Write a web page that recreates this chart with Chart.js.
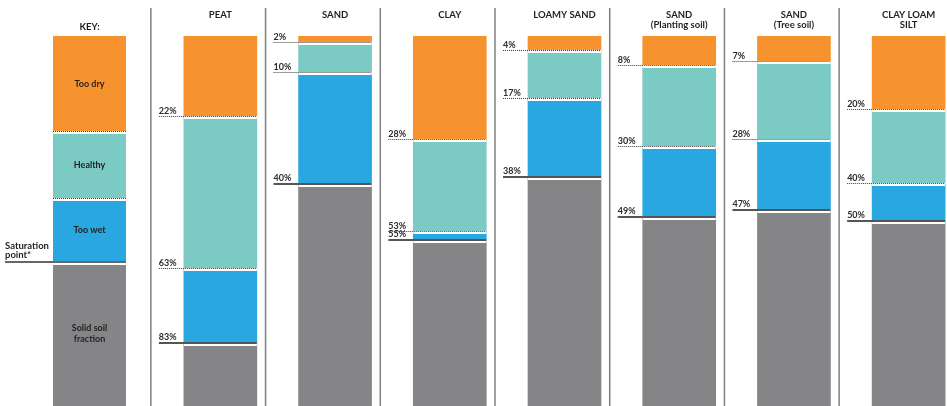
<!DOCTYPE html>
<html><head><meta charset="utf-8">
<script src="https://cdn.jsdelivr.net/npm/chart.js@4/dist/chart.umd.min.js"></script>
<style>
html,body{margin:0;padding:0;background:#fff;width:947px;height:406px;overflow:hidden;position:relative;}
canvas{position:absolute;left:0;top:0;}
</style></head><body>
<canvas id="main" width="1000" height="406"></canvas>
<canvas id="key" width="152" height="406"></canvas>
<script>
// ---- data ----
const categories = [['PEAT'], ['SAND'], ['CLAY'], ['LOAMY SAND'], ['SAND', '(Planting soil)'], ['SAND', '(Tree soil)'], ['CLAY LOAM', 'SILT']];
const tooDryLimit = [22, 2, 28, 4, 8, 7, 20];
const healthyLimit = [63, 10, 53, 17, 30, 28, 40];
const saturationPoint = [83, 40, 55, 38, 49, 47, 50];
const keyTitle = [['KEY:']];
const keyLimits = [26, 44, 61];
const keyLabels = [['Too dry'], ['Healthy'], ['Too wet'], ['Solid soil', 'fraction']];
const saturationText = ['Saturation', 'point*'];
const seriesNames = ['Too dry', 'Healthy', 'Too wet', 'Solid soil fraction'];
const colors = ['#F7932F', '#7BCAC4', '#29A7E0', '#858587'];

const FONT = 'Lato, "Open Sans", sans-serif';

function segments(a, b, c) { return [a, b - a, c - b, 100 - c]; }

function makeDatasets(limA, limB, limC, thickness) {
  return seriesNames.map((name, s) => ({
    label: name,
    data: limA.map((_, i) => segments(limA[i], limB[i], limC[i])[s]),
    backgroundColor: colors[s],
    borderWidth: 0,
    barThickness: thickness,
    categoryPercentage: 1,
    barPercentage: 1
  }));
}

function baseOptions(padLeft, padRight, titlePad) {
  return {
    responsive: false, animation: false, events: [],
    layout: { padding: { left: padLeft, right: padRight, top: 0, bottom: 0 } },
    plugins: { legend: { display: false }, tooltip: { enabled: false } },
    scales: {
      x: {
        stacked: true, position: 'top',
        grid: { display: false, drawTicks: false }, border: { display: false },
        ticks: { font: { family: FONT, weight: 'bold', size: 9.5, lineHeight: 1.05 }, color: '#231F20',
                 padding: titlePad, crossAlign: 'far', maxRotation: 0, minRotation: 0, autoSkip: false },
        afterFit(scale) { scale.height = 36; }
      },
      y: { stacked: true, display: false, min: 0, max: 100, reverse: true }
    }
  };
}

function pctLabel(ctx, text, x, y) {
  ctx.save();
  ctx.setLineDash([]);
  ctx.fillStyle = '#2b2b2b';
  ctx.font = 'bold 9px ' + FONT;
  ctx.textAlign = 'left';
  ctx.textBaseline = 'alphabetic';
  ctx.fillText(text, x, y);
  ctx.restore();
}

function dotted(ctx, x1, x2, Y) {
  ctx.save();
  ctx.strokeStyle = '#3a3a3a'; ctx.lineWidth = 1; ctx.setLineDash([1, 1]);
  ctx.beginPath(); ctx.moveTo(x1, Y + 0.5); ctx.lineTo(x2, Y + 0.5); ctx.stroke();
  ctx.restore();
}

const mainPlugin = {
  id: 'soilBoundaries',
  afterDatasetsDraw(chart) {
    const ctx = chart.ctx, ys = chart.scales.y, area = chart.chartArea;
    chart.getDatasetMeta(0).data.forEach((bar, i) => {
      const left = bar.x - bar.width / 2, right = bar.x + bar.width / 2;
      const labelX = left - 25;
      // column separator
      ctx.save();
      ctx.strokeStyle = '#808080'; ctx.lineWidth = 1.5;
      ctx.beginPath(); ctx.moveTo(left - 33, 8); ctx.lineTo(left - 33, area.bottom); ctx.stroke();
      ctx.restore();
      [tooDryLimit[i], healthyLimit[i]].forEach(v => {
        const Y = Math.round(ys.getPixelForValue(v));
        ctx.fillStyle = '#fff'; ctx.fillRect(left, Y - 1, bar.width, 3);
        dotted(ctx, labelX, right, Y - 1);
        pctLabel(ctx, v + '%', labelX, Y - 3);
      });
      const S = Math.round(ys.getPixelForValue(saturationPoint[i]));
      ctx.fillStyle = '#fff'; ctx.fillRect(left, S - 1, bar.width, 4);
      ctx.fillStyle = '#555'; ctx.fillRect(labelX, S - 1, right - labelX, 2);
      pctLabel(ctx, saturationPoint[i] + '%', labelX, S - 3);
    });
  }
};

const keyPlugin = {
  id: 'keyBoundaries',
  afterDatasetsDraw(chart) {
    const ctx = chart.ctx, ys = chart.scales.y;
    const bar = chart.getDatasetMeta(0).data[0];
    const left = bar.x - bar.width / 2, right = bar.x + bar.width / 2;
    [keyLimits[0], keyLimits[1]].forEach(v => {
      const Y = Math.round(ys.getPixelForValue(v));
      ctx.fillStyle = '#fff'; ctx.fillRect(left, Y - 1, bar.width, 3);
      dotted(ctx, left, right, Y - 1);
    });
    const S = Math.round(ys.getPixelForValue(keyLimits[2]));
    ctx.fillStyle = '#fff'; ctx.fillRect(left, S - 1, bar.width, 4);
    ctx.fillStyle = '#666'; ctx.fillRect(5, S - 1, right - 5, 2);
    // segment texts
    ctx.save();
    ctx.font = 'bold 9px ' + FONT; ctx.fillStyle = '#231F20';
    ctx.textAlign = 'center'; ctx.textBaseline = 'middle';
    keyLabels.forEach((lines, s) => {
      const el = chart.getDatasetMeta(s).data[0];
      const cy = (el.y + el.base) / 2;
      lines.forEach((t, j) => ctx.fillText(t, el.x, cy + (j - (lines.length - 1) / 2) * 11));
    });
    ctx.font = 'bold 9.5px ' + FONT; ctx.textAlign = 'left';
    saturationText.forEach((t, j) => ctx.fillText(t, 5, S - 16 + j * 9));
    ctx.restore();
  }
};

new Chart(document.getElementById('main'), {
  type: 'bar',
  data: { labels: categories, datasets: makeDatasets(tooDryLimit, healthyLimit, saturationPoint, 73) },
  options: baseOptions(163, 34, 6),
  plugins: [mainPlugin]
});

new Chart(document.getElementById('key'), {
  type: 'bar',
  data: { labels: keyTitle, datasets: makeDatasets([keyLimits[0]], [keyLimits[1]], [keyLimits[2]], 73) },
  options: baseOptions(53, 26, 4),
  plugins: [keyPlugin]
});
</script>
</body></html>
